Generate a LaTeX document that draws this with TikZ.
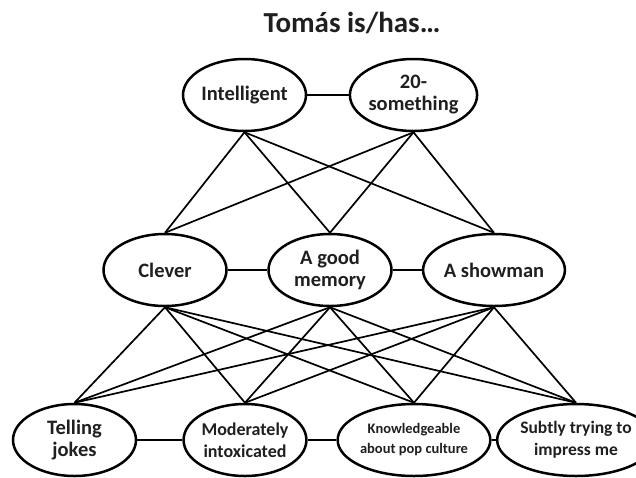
\documentclass[tikz,border=0pt]{standalone}
\usepackage{fontspec}
\setmainfont{Carlito}
\usetikzlibrary{shapes.geometric}
\tikzset{
  oval/.style={ellipse, draw=black, line width=2.5pt, inner sep=0pt,
    minimum width=123pt, minimum height=72pt, align=center,
    font=\fontsize{20.5}{22}\selectfont\bfseries, text=black!88},
  link/.style={draw=black, line width=1.7pt},
}
\begin{document}
\begin{tikzpicture}[x=1pt,y=-1pt]
\useasboundingbox (0,0) rectangle (636,477);
\node[anchor=base, font=\fontsize{29}{32}\selectfont\bfseries, text=black!88] (title) at (352,32) {Tomás is/has…};
% top row
\node[oval] (I) at (244.5,95) {Intelligent};
\node[oval] (S) at (413.5,95) {20-\\something};
% middle row
\node[oval] (C) at (165,270) {Clever};
\node[oval] (M) at (330,270) {A good\\memory};
\node[oval] (W) at (494,270) {A showman};
% bottom row
\node[oval] (T) at (74.5,440) {Telling\\jokes};
\node[oval, minimum width=121pt, font=\fontsize{18}{22}\selectfont\bfseries] (D) at (245,440) {Moderately\\intoxicated};
\node[oval, minimum width=121pt, font=\fontsize{14.5}{20}\selectfont\bfseries] (K) at (414,440) {Knowledgeable\\about pop culture};
\node[oval, minimum width=117pt, font=\fontsize{17.5}{22}\selectfont\bfseries] (U) at (576,440) {Subtly trying to\\impress me};
% horizontal links
\draw[link] (I.east) -- (S.west);
\draw[link] (C.east) -- (M.west);
\draw[link] (M.east) -- (W.west);
\draw[link] (T.east) -- (D.west);
\draw[link] (D.east) -- (K.west);
\draw[link] (K.east) -- (U.west);
% top to middle
\foreach \a in {I,S}{
  \foreach \b in {C,M,W}{
    \draw[link] (\a.south) -- (\b.north);
  }
}
% middle to bottom
\foreach \a in {C,M,W}{
  \foreach \b in {T,D,K,U}{
    \draw[link] (\a.south) -- (\b.north);
  }
}
\end{tikzpicture}
\end{document}
